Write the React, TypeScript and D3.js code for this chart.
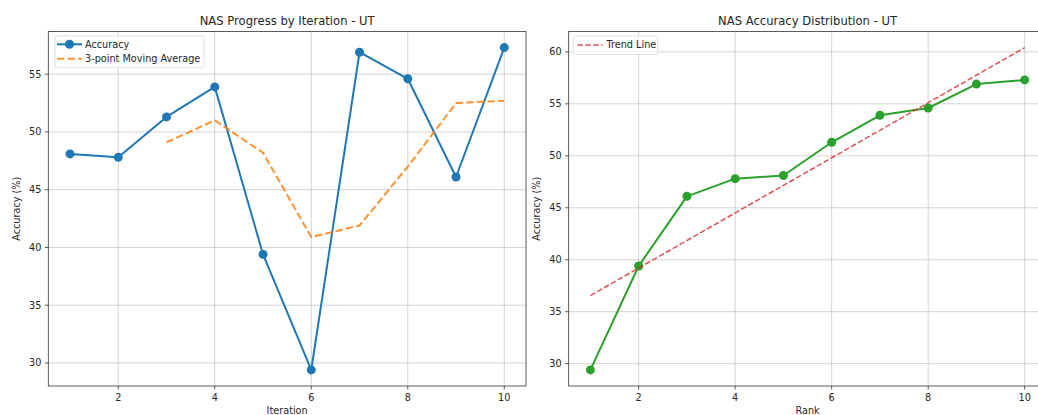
import React from 'react';
import * as d3 from 'd3';

const iterations = [1, 2, 3, 4, 5, 6, 7, 8, 9, 10];
const accuracy = [48.1, 47.8, 51.3, 53.9, 39.4, 29.4, 56.9, 54.6, 46.1, 57.3];
const maIterations = [3, 4, 5, 6, 7, 8, 9, 10];
const movingAvg = [49.1, 51.0, 48.2, 40.9, 41.9, 47.0, 52.5, 52.7];
const ranks = [1, 2, 3, 4, 5, 6, 7, 8, 9, 10];
const sortedAcc = [29.4, 39.4, 46.1, 47.8, 48.1, 51.3, 53.9, 54.6, 56.9, 57.3];
const trendRanks = [1, 10];
const trendVals = [36.55, 60.41];
const xTicks = [2, 4, 6, 8, 10];
const leftYTicks = [30, 35, 40, 45, 50, 55];
const rightYTicks = [30, 35, 40, 45, 50, 55, 60];

const W = 1038;
const H = 415;
const FONT = 'DejaVu Sans, sans-serif';
const TICK = 9.7;
const TOP = 31.5;
const BOTTOM = 386;
const AX_W = 477.7;

function pad(lo: number, hi: number): [number, number] {
  const r = hi - lo;
  return [lo - r * 0.05, hi + r * 0.05];
}

type Props = {
  left: number;
  yDomain: [number, number];
  yTicks: number[];
  title: string;
  xLabel: string;
  children: (x: d3.ScaleLinear<number, number>, y: d3.ScaleLinear<number, number>) => React.ReactNode;
};

function Axes({ left, yDomain, yTicks, title, xLabel, children }: Props) {
  const x = d3.scaleLinear().domain(pad(1, 10)).range([left, left + AX_W]);
  const y = d3.scaleLinear().domain(yDomain).range([BOTTOM, TOP]);
  const clipId = `clip-${left}`;
  const cx = left + AX_W / 2;
  return (
    <g>
      <defs>
        <clipPath id={clipId}>
          <rect x={left} y={TOP} width={AX_W} height={BOTTOM - TOP} />
        </clipPath>
      </defs>
      <rect x={left} y={TOP} width={AX_W} height={BOTTOM - TOP} fill="#fff" />
      <g stroke="#b0b0b0" strokeOpacity={0.7} strokeWidth={0.8}>
        {xTicks.map(t => (
          <line key={'gx' + t} x1={x(t)} x2={x(t)} y1={TOP} y2={BOTTOM} />
        ))}
        {yTicks.map(t => (
          <line key={'gy' + t} x1={left} x2={left + AX_W} y1={y(t)} y2={y(t)} />
        ))}
      </g>
      <g clipPath={`url(#${clipId})`}>{children(x, y)}</g>
      <rect x={left} y={TOP} width={AX_W} height={BOTTOM - TOP} fill="none" stroke="#333" strokeWidth={0.8} />
      {xTicks.map(t => (
        <g key={'tx' + t}>
          <line x1={x(t)} x2={x(t)} y1={BOTTOM} y2={BOTTOM + 3.5} stroke="#333" strokeWidth={0.8} />
          <text x={x(t)} y={BOTTOM + 14.5} textAnchor="middle" fontSize={TICK} fill="#262626">{t}</text>
        </g>
      ))}
      {yTicks.map(t => (
        <g key={'ty' + t}>
          <line x1={left - 3.5} x2={left} y1={y(t)} y2={y(t)} stroke="#333" strokeWidth={0.8} />
          <text x={left - 7} y={y(t)} dy="0.35em" textAnchor="end" fontSize={TICK} fill="#262626">{t}</text>
        </g>
      ))}
      <text x={cx} y={TOP - 7} textAnchor="middle" fontSize={11.6} fill="#262626">{title}</text>
      <text x={cx} y={BOTTOM + 28} textAnchor="middle" fontSize={TICK} fill="#262626">{xLabel}</text>
      <text
        transform={`translate(${left - 28.5},${(TOP + BOTTOM) / 2}) rotate(-90)`}
        textAnchor="middle"
        fontSize={TICK}
        fill="#262626"
      >
        Accuracy (%)
      </text>
    </g>
  );
}

export default function App() {
  const leftDomain = pad(d3.min(accuracy)!, d3.max(accuracy)!);
  const rightDomain = pad(
    Math.min(d3.min(sortedAcc)!, d3.min(trendVals)!),
    Math.max(d3.max(sortedAcc)!, d3.max(trendVals)!)
  );

  return (
    <svg
      width={W}
      height={H}
      style={{ position: 'absolute', left: 0, top: 0, background: '#fff' }}
      fontFamily={FONT}
    >
      <Axes left={48.3} yDomain={leftDomain} yTicks={leftYTicks} title="NAS Progress by Iteration - UT" xLabel="Iteration">
        {(x, y) => {
          const line = d3.line<number>().x((_, i) => x(iterations[i])).y(d => y(d));
          const maLine = d3.line<number>().x((_, i) => x(maIterations[i])).y(d => y(d));
          return (
            <g>
              <path d={line(accuracy)!} fill="none" stroke="#1f77b4" strokeWidth={2} strokeLinejoin="round" />
              {accuracy.map((v, i) => (
                <circle key={i} cx={x(iterations[i])} cy={y(v)} r={4.5} fill="#1f77b4" />
              ))}
              <path d={maLine(movingAvg)!} fill="none" stroke="#ff7f0e" strokeWidth={2} strokeDasharray="7.4,3.2" strokeOpacity={0.85} />
            </g>
          );
        }}
      </Axes>
      <Axes left={568.7} yDomain={rightDomain} yTicks={rightYTicks} title="NAS Accuracy Distribution - UT" xLabel="Rank">
        {(x, y) => {
          const line = d3.line<number>().x((_, i) => x(ranks[i])).y(d => y(d));
          const trend = d3.line<number>().x((_, i) => x(trendRanks[i])).y(d => y(d));
          return (
            <g>
              <path d={line(sortedAcc)!} fill="none" stroke="#2ca02c" strokeWidth={2} strokeLinejoin="round" />
              {sortedAcc.map((v, i) => (
                <circle key={i} cx={x(ranks[i])} cy={y(v)} r={4.5} fill="#2ca02c" />
              ))}
              <path d={trend(trendVals)!} fill="none" stroke="#d62728" strokeOpacity={0.8} strokeWidth={1.5} strokeDasharray="5.5,2.4" />
            </g>
          );
        }}
      </Axes>

      {/* legend left */}
      <g>
        <rect x={55} y={36} width={149} height={31.7} rx={2.5} fill="#fff" fillOpacity={0.8} stroke="#d5d5d5" strokeWidth={0.8} />
        <line x1={57} x2={82} y1={44.3} y2={44.3} stroke="#1f77b4" strokeWidth={2} />
        <circle cx={69.5} cy={44.3} r={4.5} fill="#1f77b4" />
        <text x={85} y={44.3} dy="0.35em" fontSize={TICK} fill="#262626">Accuracy</text>
        <line x1={57} x2={82} y1={58.7} y2={58.7} stroke="#ff7f0e" strokeWidth={2} strokeDasharray="7.4,3.2" strokeOpacity={0.85} />
        <text x={85} y={58.7} dy="0.35em" fontSize={TICK} fill="#262626">3-point Moving Average</text>
      </g>

      {/* legend right */}
      <g>
        <rect x={573.3} y={36} width={84.4} height={18.5} rx={2.5} fill="#fff" fillOpacity={0.8} stroke="#d5d5d5" strokeWidth={0.8} />
        <line x1={577.5} x2={602.5} y1={45} y2={45} stroke="#d62728" strokeOpacity={0.8} strokeWidth={1.5} strokeDasharray="5.5,2.4" />
        <text x={606.5} y={45} dy="0.35em" fontSize={TICK} fill="#262626">Trend Line</text>
      </g>
    </svg>
  );
}
